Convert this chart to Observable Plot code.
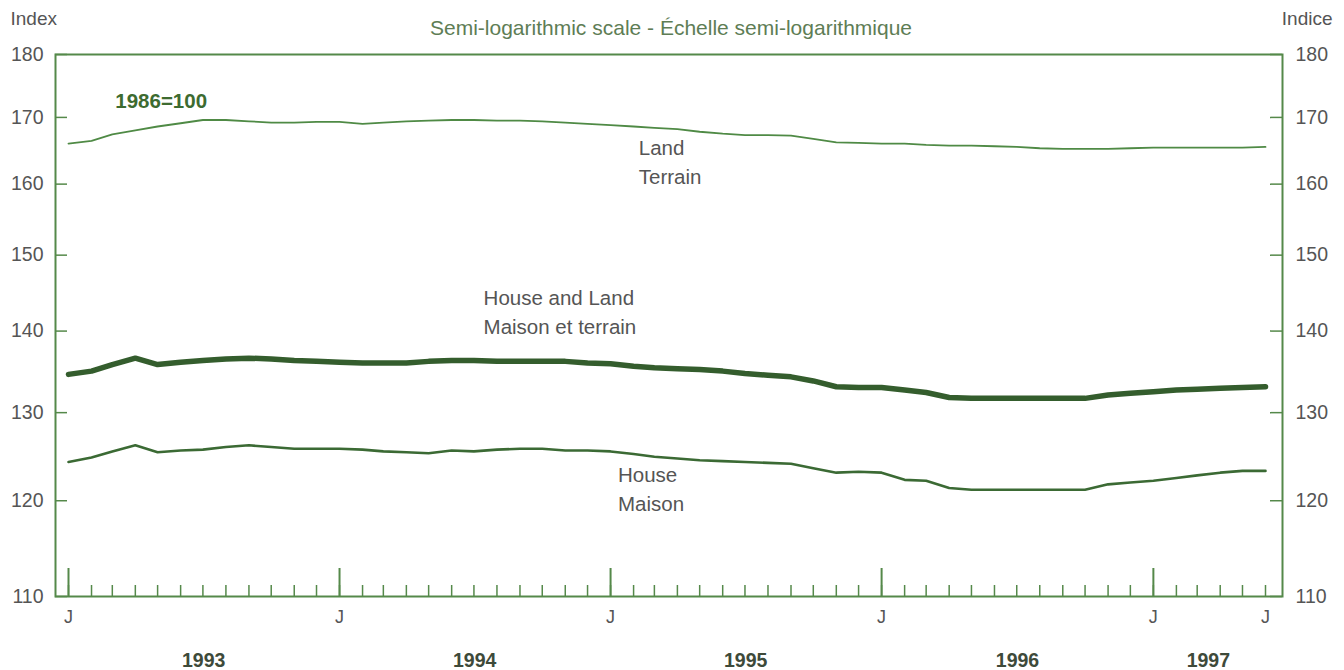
<!DOCTYPE html>
<html>
<head>
<meta charset="utf-8">
<script src="https://cdn.jsdelivr.net/npm/d3@7"></script>
<script src="https://cdn.jsdelivr.net/npm/@observablehq/plot@0.6"></script>
<style>
  html, body { margin: 0; padding: 0; background: #ffffff; }
  #chart svg { display: block; }
</style>
</head>
<body>
<div id="chart"></div>
<script>
// ---- Data ----
const startMonth = new Date(Date.UTC(1993, 0, 1));
const endMonth = new Date(Date.UTC(1997, 5, 1));
const months = d3.utcMonth.range(startMonth, d3.utcMonth.offset(endMonth, 1)); // Jan 1993 .. Jun 1997

const land = [
  166.0,166.4,167.4,168.0,168.6,169.1,169.6,169.6,169.4,169.2,169.2,169.3,
  169.3,169.0,169.2,169.4,169.5,169.6,169.6,169.5,169.5,169.4,169.2,169.0,
  168.8,168.6,168.4,168.2,167.8,167.5,167.3,167.3,167.2,166.7,166.2,166.1,
  166.0,166.0,165.8,165.7,165.7,165.6,165.5,165.3,165.2,165.2,165.2,165.3,
  165.4,165.4,165.4,165.4,165.4,165.5
];
const houseAndLand = [
  134.6,135.0,135.8,136.6,135.8,136.1,136.3,136.5,136.6,136.5,136.3,136.2,
  136.1,136.0,136.0,136.0,136.2,136.3,136.3,136.2,136.2,136.2,136.2,136.0,
  135.9,135.6,135.4,135.3,135.2,135.0,134.7,134.5,134.3,133.8,133.1,133.0,
  133.0,132.7,132.4,131.8,131.7,131.7,131.7,131.7,131.7,131.7,132.1,132.3,
  132.5,132.7,132.8,132.9,133.0,133.1
];
const house = [
  124.3,124.8,125.5,126.2,125.4,125.6,125.7,126.0,126.2,126.0,125.8,125.8,
  125.8,125.7,125.5,125.4,125.3,125.6,125.5,125.7,125.8,125.8,125.6,125.6,
  125.5,125.2,124.9,124.7,124.5,124.4,124.3,124.2,124.1,123.6,123.1,123.2,
  123.1,122.3,122.2,121.4,121.2,121.2,121.2,121.2,121.2,121.2,121.8,122.0,
  122.2,122.5,122.8,123.1,123.3,123.3
];

const yTicks = [110, 120, 130, 140, 150, 160, 170, 180];
const xLabelDates = [
  new Date(Date.UTC(1993, 0, 1)), new Date(Date.UTC(1994, 0, 1)),
  new Date(Date.UTC(1995, 0, 1)), new Date(Date.UTC(1996, 0, 1)),
  new Date(Date.UTC(1997, 0, 1)), new Date(Date.UTC(1997, 5, 1))
];
const xLabelText = ["J", "J", "J", "J", "J", "J"];
const yearLabels = ["1993", "1994", "1995", "1996", "1997"];
const yearCenters = [
  new Date(Date.UTC(1993, 6, 2)), new Date(Date.UTC(1994, 6, 2)),
  new Date(Date.UTC(1995, 6, 2)), new Date(Date.UTC(1996, 6, 2)),
  new Date(Date.UTC(1997, 2, 16))
];
const januaries = months.filter(d => d.getUTCMonth() === 0);

const seriesLabels = [
  {text: "Land\nTerrain", date: new Date(Date.UTC(1995, 1, 8)), value: 163.55},
  {text: "House and Land\nMaison et terrain", date: new Date(Date.UTC(1994, 6, 14)), value: 142.7},
  {text: "House\nMaison", date: new Date(Date.UTC(1995, 0, 11)), value: 121.45}
];
const baseNote = {text: "1986=100", date: new Date(Date.UTC(1993, 2, 5)), value: 171.4};

const title = "Semi-logarithmic scale - Échelle semi-logarithmique";
const leftUnit = "Index";
const rightUnit = "Indice";

// ---- Build table ----
const rows = [];
months.forEach((d, i) => {
  rows.push({date: d, value: land[i], series: "Land"});
  rows.push({date: d, value: houseAndLand[i], series: "House and Land"});
  rows.push({date: d, value: house[i], series: "House"});
});

// ---- Styles ----
const W = 1344, H = 670;
const mL = 55, mR = 62, mT = 54, mB = 74;
const innerW = W - mL - mR;
const innerH = H - mT - mB;
const green = "#55894a";
const textGrey = "#555555";
const font = "'Liberation Sans', Arial, Helvetica, sans-serif";

const chart = Plot.plot({
  width: W,
  height: H,
  marginLeft: mL,
  marginRight: mR,
  marginTop: mT,
  marginBottom: mB,
  style: {fontFamily: font, background: "#ffffff", color: textGrey},
  x: {type: "utc", domain: [startMonth, endMonth], insetLeft: 13, insetRight: 17},
  y: {type: "log", domain: [110, 180]},
  marks: [
    // unit labels & title above the frame
    Plot.text([leftUnit], {frameAnchor: "top-left", dx: -45, dy: -30, textAnchor: "start", lineAnchor: "bottom", fontSize: 19, fill: textGrey}),
    Plot.text([rightUnit], {frameAnchor: "top-right", dx: 50, dy: -30, textAnchor: "end", lineAnchor: "bottom", fontSize: 19, fill: textGrey}),
    Plot.text([title], {frameAnchor: "top", dx: 2, dy: -20, lineAnchor: "bottom", fontSize: 21, fill: "#5e7d55"}),

    // y axes (labels only) on both sides
    Plot.axisY({anchor: "left", ticks: yTicks, tickSize: 0, tickPadding: 12, fontSize: 19.5, tickFormat: d => String(d), label: null, color: textGrey}),
    Plot.axisY({anchor: "right", ticks: yTicks, tickSize: 0, tickPadding: 13, fontSize: 19.5, tickFormat: d => String(d), label: null, color: textGrey}),
    // inward y ticks
    Plot.tickY(yTicks, {y: d => d, stroke: green, strokeWidth: 1.5, insetRight: innerW - 12}),
    Plot.tickY(yTicks, {y: d => d, stroke: green, strokeWidth: 1.5, insetLeft: innerW - 12}),

    // month ticks (upward from bottom)
    Plot.tickX(months, {x: d => d, stroke: green, strokeWidth: 1.5, insetTop: innerH - 11}),
    Plot.tickX(januaries, {x: d => d, stroke: green, strokeWidth: 2, insetTop: innerH - 28}),

    // x labels
    Plot.axisX({ticks: xLabelDates, tickFormat: (d, i) => xLabelText[i], tickSize: 0, tickPadding: 14, fontSize: 18, label: null, color: textGrey}),
    Plot.text(yearLabels, {x: (d, i) => yearCenters[i], text: d => d, frameAnchor: "bottom", dy: 70, lineAnchor: "bottom", fontSize: 19.5, fontWeight: "bold", fill: "#3e4a3a"}),

    // frame
    Plot.frame({stroke: green, strokeWidth: 2}),

    // series lines
    Plot.lineY(rows.filter(r => r.series === "Land"), {x: "date", y: "value", stroke: "#4f8a45", strokeWidth: 1.8}),
    Plot.lineY(rows.filter(r => r.series === "House"), {x: "date", y: "value", stroke: "#3b6a34", strokeWidth: 2.6}),
    Plot.lineY(rows.filter(r => r.series === "House and Land"), {x: "date", y: "value", stroke: "#345d2d", strokeWidth: 5.5, strokeLinecap: "round"}),

    // annotations
    Plot.text(seriesLabels, {x: "date", y: "value", text: "text", textAnchor: "start", lineAnchor: "middle", lineHeight: 1.4, fontSize: 20.5, fill: textGrey}),
    Plot.text([baseNote], {x: "date", y: "value", text: "text", textAnchor: "start", lineAnchor: "bottom", fontSize: 20.5, fontWeight: "bold", fill: "#3d6b30"})
  ]
});

document.getElementById("chart").appendChild(chart);
</script>
</body>
</html>
